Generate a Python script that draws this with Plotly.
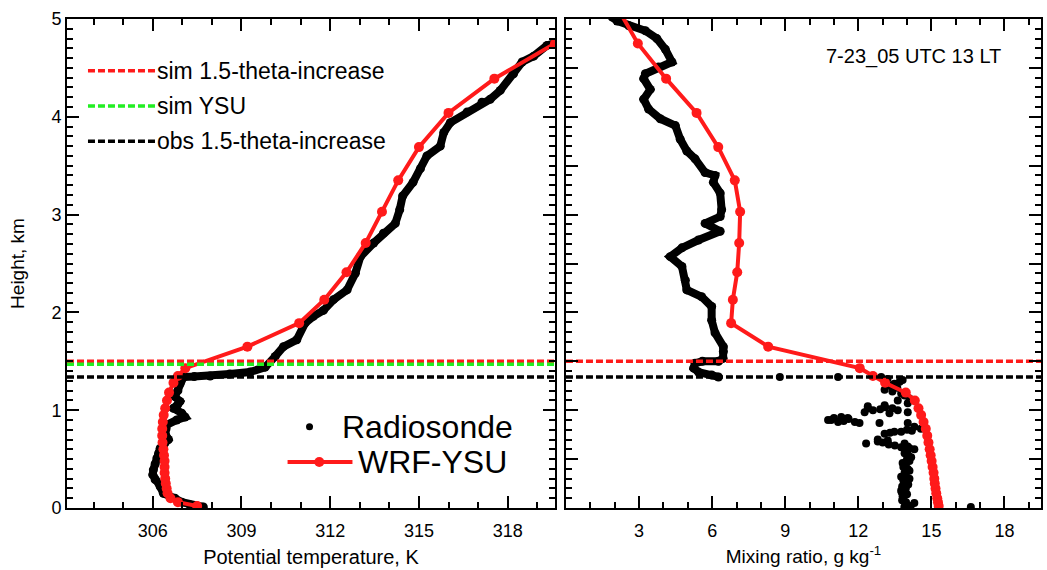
import plotly.graph_objects as go

# ---------------- data ----------------
# WRF-YSU model levels (km) with potential temperature (K) and mixing ratio (g/kg)
wrf_z = [0.02, 0.06, 0.10, 0.15, 0.20, 0.25, 0.30, 0.36, 0.42, 0.48, 0.54, 0.60,
         0.67, 0.74, 0.81, 0.88, 0.95, 1.02, 1.10, 1.18, 1.28, 1.35, 1.43, 1.65,
         1.89, 2.13, 2.41, 2.71, 3.03, 3.35, 3.69, 4.04, 4.39, 4.75, 5.12]
wrf_theta = [307.5, 306.85, 306.6, 306.5, 306.47, 306.44, 306.42, 306.4, 306.4, 306.4,
             306.38, 306.36, 306.33, 306.32, 306.32, 306.34, 306.37, 306.42, 306.48,
             306.55, 306.7, 306.85, 307.1, 309.2, 310.95, 311.8, 312.55, 313.2,
             313.75, 314.3, 315.0, 316.0, 317.55, 319.6, 321.0]
wrf_q = [15.3, 15.27, 15.24, 15.2, 15.17, 15.14, 15.12, 15.09, 15.05, 15.01, 14.97,
         14.93, 14.88, 14.83, 14.77, 14.68, 14.58, 14.47, 14.32, 13.95, 13.1, 12.6,
         12.06, 8.3, 6.78, 6.85, 7.03, 7.11, 7.15, 6.93, 6.25, 5.36, 4.11, 2.95, 2.1]

# Radiosonde potential temperature profile
sonde_theta_z = [0.01, 0.03, 0.06, 0.10, 0.15, 0.22, 0.29, 0.34, 0.39, 0.45, 0.51, 0.56,
                 0.61, 0.66, 0.70, 0.76, 0.81, 0.85, 0.90, 0.93, 0.97, 1.02, 1.06, 1.09,
                 1.14, 1.20, 1.27, 1.34, 1.345, 1.35, 1.37, 1.39, 1.44, 1.55, 1.65, 1.72,
                 1.89, 1.96, 2.02, 2.13, 2.23, 2.40, 2.57, 2.71, 2.81, 2.91, 3.05, 3.19,
                 3.33, 3.47, 3.60, 3.70, 3.84, 3.94, 4.05, 4.15, 4.18, 4.27, 4.44, 4.56,
                 4.62, 4.73, 4.76]
sonde_theta = [307.71, 307.26, 306.98, 306.75, 306.36, 306.25, 306.08, 306.0, 306.02,
               306.08, 306.14, 306.2, 306.25, 306.4, 306.53, 306.42, 306.45, 306.47,
               306.81, 307.09, 306.98, 306.7, 306.85, 306.92, 306.75, 306.85, 306.92,
               307.04, 307.4, 307.94, 308.6, 309.29, 309.8, 310.14, 310.42, 310.87,
               311.15, 311.43, 311.77, 312.11, 312.57, 312.85, 313.02, 313.47, 313.8,
               314.2, 314.35, 314.45, 314.8, 315.05, 315.27, 315.72, 315.84, 316.06,
               316.63, 317.13, 317.41, 317.75, 318.2, 318.49, 318.88, 319.33, 319.67]

# Radiosonde mixing ratio, free troposphere (continuous trace)
sonde_q_z = [1.34, 1.36, 1.39, 1.43, 1.48, 1.50, 1.50, 1.53, 1.60, 1.65, 1.79, 1.92,
             2.06, 2.16, 2.23, 2.33, 2.47, 2.57, 2.66, 2.74, 2.83, 2.91, 2.98, 3.05,
             3.22, 3.33, 3.40, 3.43, 3.57, 3.65, 3.77, 3.91, 3.98, 4.08, 4.18, 4.28,
             4.39, 4.44, 4.51, 4.56, 4.69, 4.80, 4.88, 4.93, 4.98, 5.02]
sonde_q = [6.26, 5.98, 5.44, 5.24, 5.3, 5.6, 6.26, 6.45, 6.46, 6.46, 6.12, 5.98,
           5.98, 5.57, 4.96, 4.9, 4.76, 4.28, 4.76, 5.44, 6.33, 5.71, 6.33, 6.39,
           6.33, 6.05, 6.12, 5.71, 5.3, 4.96, 4.69, 4.49, 3.87, 3.39, 3.19, 3.46,
           3.19, 3.26, 3.80, 4.35, 4.08, 3.73, 3.26, 2.58, 2.1, 1.9]

# Radiosonde mixing ratio, boundary layer (scattered samples)
sonde_q_bl_z = [0.01, 0.02, 0.03, 0.05, 0.06, 0.08, 0.10, 0.12, 0.14, 0.16, 0.18, 0.20,
                0.22, 0.24, 0.26, 0.28, 0.30, 0.32, 0.34, 0.36, 0.38, 0.40, 0.42, 0.44,
                0.46, 0.48, 0.50, 0.52, 0.54, 0.56, 0.58, 0.60, 0.61, 0.62, 0.63, 0.64,
                0.65, 0.66, 0.67, 0.68, 0.69, 0.70, 0.66, 0.76, 0.77, 0.78, 0.78, 0.79,
                0.80, 0.81, 0.83, 0.87, 0.87, 0.87, 0.88, 0.88, 0.89, 0.90, 0.90, 0.91,
                0.92, 0.92, 0.93, 0.97, 0.98, 0.98, 1.00, 1.00, 1.01, 1.02, 1.02, 1.03,
                1.04, 1.05, 1.07, 1.10, 1.12, 1.15, 1.17, 1.19, 1.21, 1.23, 1.25, 1.27,
                1.29, 1.31, 1.32, 1.34, 1.34, 1.34, 0.01]
sonde_q_bl = [13.89, 14.15, 13.95, 14.3, 13.96, 13.8, 13.85, 13.82, 14.0, 13.78, 13.76,
              13.95, 13.8, 14.05, 13.89, 13.85, 14.1, 13.76, 13.95, 13.9, 14.1, 14.03,
              13.85, 13.95, 13.82, 14.1, 14.0, 14.17, 14.05, 13.9, 13.96, 14.3, 14.1,
              13.76, 14.03, 13.5, 13.25, 12.32, 13.0, 12.8, 13.21, 12.8, 13.9, 13.08,
              13.3, 13.48, 13.76, 14.2, 14.0, 14.57, 14.3, 12.87, 14.03, 12.05, 11.17,
              11.86, 11.4, 10.89, 10.76, 11.6, 11.57, 11.0, 11.3, 13.28, 12.26, 14.03,
              13.62, 12.6, 12.9, 12.39, 13.4, 13.1, 12.39, 13.08, 14.03, 13.62, 14.1,
              13.9, 13.76, 13.4, 13.08, 13.6, 13.3, 13.48, 13.7, 13.82, 13.2, 12.94,
              11.17, 8.78, 16.62]

# PBL-height diagnostics (km)
pbl_names = ["sim 1.5-theta-increase", "sim YSU", "obs 1.5-theta-increase"]
pbl_heights = [1.5, 1.47, 1.34]
pbl_colors = ["#ff1a1a", "#22ee22", "#000000"]
pbl_in_right = [True, False, True]

theta_range = [303.1, 319.6]
q_range = [0, 19.5]
z_range = [0, 5]
theta_ticks = [306, 309, 312, 315, 318]
q_ticks = [3, 6, 9, 12, 15, 18]
y_label_ticks = [0, 1, 2, 3, 4, 5]
y_half_ticks = [0.5, 1.5, 2.5, 3.5, 4.5]
y_all_major = [0, 0.5, 1, 1.5, 2, 2.5, 3, 3.5, 4, 4.5, 5]

RED = "#ff1a1a"
FONT = "Liberation Sans, Arial, Helvetica, sans-serif"

fig = go.Figure()

# ---- left panel: potential temperature ----
fig.add_trace(go.Scatter(x=sonde_theta, y=sonde_theta_z, mode="lines+markers",
                         line=dict(color="black", width=8), marker=dict(color="black", size=9),
                         showlegend=False, xaxis="x", yaxis="y", cliponaxis=True))
fig.add_trace(go.Scatter(x=wrf_theta, y=wrf_z, mode="lines+markers",
                         line=dict(color=RED, width=4), marker=dict(color=RED, size=10),
                         showlegend=False, xaxis="x", yaxis="y", cliponaxis=True))

# ---- right panel: mixing ratio ----
fig.add_trace(go.Scatter(x=sonde_q, y=sonde_q_z, mode="lines+markers",
                         line=dict(color="black", width=8), marker=dict(color="black", size=9),
                         showlegend=False, xaxis="x2", yaxis="y2", cliponaxis=True))
fig.add_trace(go.Scatter(x=sonde_q_bl, y=sonde_q_bl_z, mode="markers",
                         marker=dict(color="black", size=8),
                         showlegend=False, xaxis="x2", yaxis="y2", cliponaxis=True))
fig.add_trace(go.Scatter(x=wrf_q, y=wrf_z, mode="lines+markers",
                         line=dict(color=RED, width=4), marker=dict(color=RED, size=10),
                         showlegend=False, xaxis="x2", yaxis="y2", cliponaxis=True))

# ---- PBL height lines ----
for name, h, c, inr in zip(pbl_names, pbl_heights, pbl_colors, pbl_in_right):
    fig.add_trace(go.Scatter(x=theta_range, y=[h, h], mode="lines",
                             line=dict(color=c, width=3.5, dash="7px,3px"),
                             showlegend=False, xaxis="x", yaxis="y", name=name))
    if inr:
        fig.add_trace(go.Scatter(x=q_range, y=[h, h], mode="lines",
                                 line=dict(color=c, width=3.5, dash="7px,3px"),
                                 showlegend=False, xaxis="x2", yaxis="y2", name=name))

# ---- manual legends (left panel) ----
shapes = []
annotations = []
leg_y = [0.894, 0.822, 0.750]
for name, c, ly in zip(pbl_names, pbl_colors, leg_y):
    shapes.append(dict(type="line", xref="x domain", yref="y domain",
                       x0=0.043, x1=0.184, y0=ly, y1=ly,
                       line=dict(color=c, width=3.5, dash="7px,3px")))
    annotations.append(dict(xref="x domain", yref="y domain", x=0.181, y=ly,
                            text=name, showarrow=False, xanchor="left", yanchor="middle",
                            font=dict(family=FONT, size=23, color="black")))

# Radiosonde / WRF-YSU legend
shapes.append(dict(type="circle", xref="x domain", yref="y domain",
                   xsizemode="pixel", ysizemode="pixel", xanchor=0.497, yanchor=0.166,
                   x0=-3.5, x1=3.5, y0=-3.5, y1=3.5,
                   fillcolor="black", line=dict(color="black", width=0)))
annotations.append(dict(xref="x domain", yref="y domain", x=0.56, y=0.166,
                        text="Radiosonde", showarrow=False, xanchor="left", yanchor="middle",
                        font=dict(family=FONT, size=32, color="black")))
shapes.append(dict(type="line", xref="x domain", yref="y domain",
                   x0=0.452, x1=0.585, y0=0.094, y1=0.094,
                   line=dict(color=RED, width=4)))
shapes.append(dict(type="circle", xref="x domain", yref="y domain",
                   xsizemode="pixel", ysizemode="pixel", xanchor=0.517, yanchor=0.094,
                   x0=-5, x1=5, y0=-5, y1=5,
                   fillcolor=RED, line=dict(color=RED, width=0)))
annotations.append(dict(xref="x domain", yref="y domain", x=0.592, y=0.094,
                        text="WRF-YSU", showarrow=False, xanchor="left", yanchor="middle",
                        font=dict(family=FONT, size=32, color="black")))

# time label in right panel
annotations.append(dict(xref="x2 domain", yref="y2 domain", x=0.731, y=0.923,
                        text="7-23_05 UTC 13 LT", showarrow=False, xanchor="center",
                        yanchor="middle", font=dict(family=FONT, size=20, color="black")))

axis_common = dict(showline=True, linewidth=2, linecolor="black", mirror="allticks",
                   ticks="inside", ticklen=12, tickwidth=2, tickcolor="black",
                   showgrid=False, zeroline=False,
                   tickfont=dict(family=FONT, size=18, color="black"))
minor_x = dict(ticks="inside", tick0=0, dtick=1, ticklen=6, tickwidth=2,
               tickcolor="black", showgrid=False)
minor_y = dict(ticks="inside", tick0=0, dtick=0.1, ticklen=6, tickwidth=2,
               tickcolor="black", showgrid=False)

fig.update_layout(
    width=1047, height=570,
    margin=dict(l=67, r=4, t=19, b=62),
    paper_bgcolor="white", plot_bgcolor="white",
    showlegend=False,
    xaxis=dict(domain=[0, 0.501], range=theta_range, tickmode="array", tickvals=theta_ticks,
               minor=minor_x, ticklabelstandoff=5,
               title=dict(text="Potential temperature, K",
                          font=dict(family=FONT, size=20, color="black"), standoff=10),
               anchor="y", **axis_common),
    yaxis=dict(domain=[0, 1], range=z_range, tickmode="array", tickvals=y_label_ticks,
               minor=minor_y,
               title=dict(text="Height, km",
                          font=dict(family=FONT, size=19, color="black"), standoff=22),
               anchor="x", **axis_common),
    yaxis3=dict(domain=[0, 1], range=z_range, overlaying="y", anchor="x", side="left",
                tickmode="array", tickvals=y_half_ticks, showticklabels=False,
                ticks="inside", ticklen=12, tickwidth=2, tickcolor="black",
                showline=False, mirror="ticks", showgrid=False, zeroline=False),
    xaxis2=dict(domain=[0.5123, 1], range=q_range, tickmode="array", tickvals=q_ticks,
                minor=minor_x, ticklabelstandoff=5,
                title=dict(text="Mixing ratio, g kg<sup>-1</sup>",
                           font=dict(family=FONT, size=19, color="black"), standoff=10),
                anchor="y2", **axis_common),
    yaxis2=dict(domain=[0, 1], range=z_range, tickmode="array", tickvals=y_all_major,
                showticklabels=False, minor=minor_y,
                anchor="x2", **axis_common),
    shapes=shapes,
    annotations=annotations,
)

fig.write_html("out.html")
